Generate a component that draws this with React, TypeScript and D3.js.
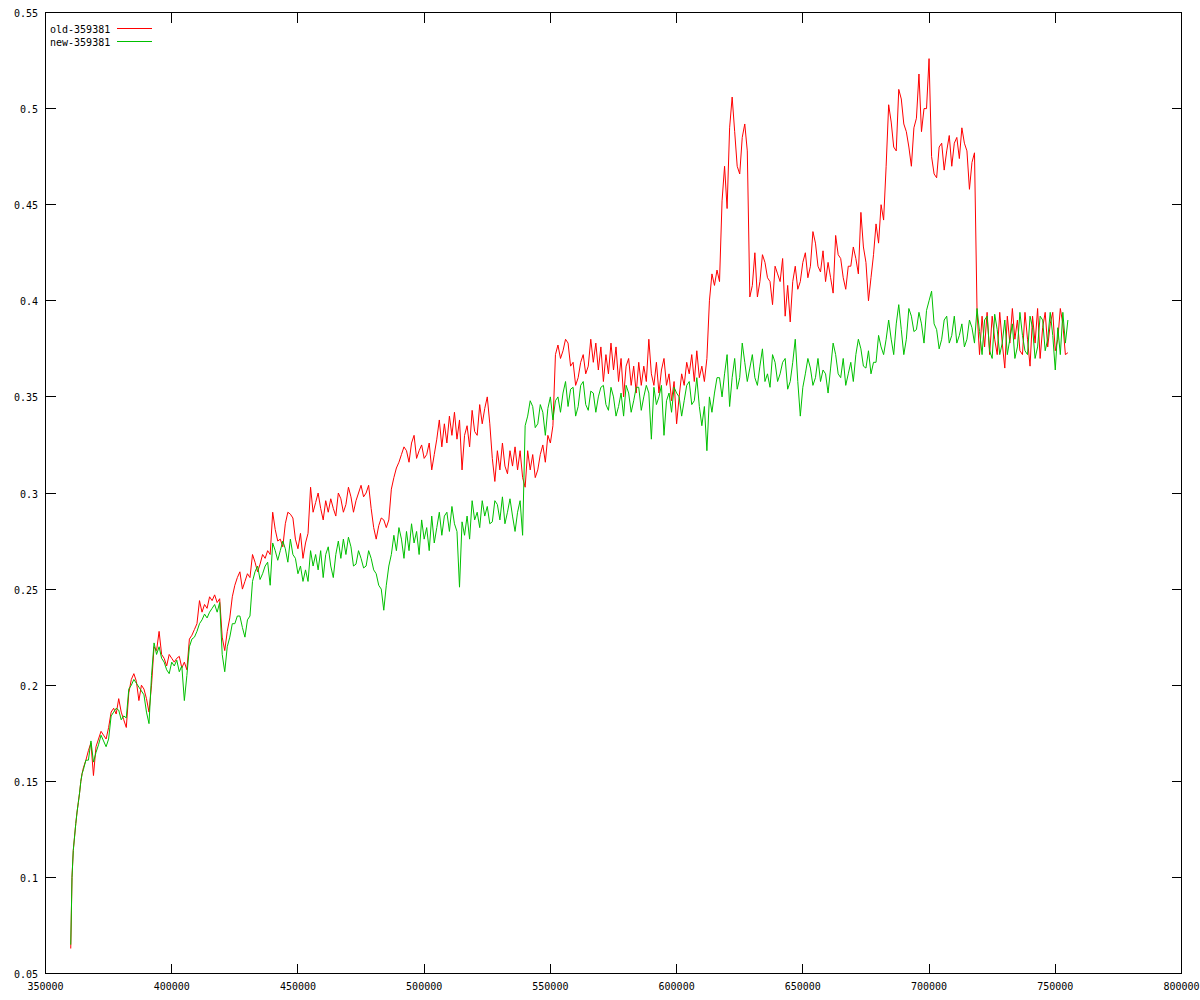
import React from 'react';
import * as d3 from 'd3';

// x grid of the samples (dense at the start, then every 1000)
const headX = [360000, 360500, 361000, 361500, 362000, 362500, 363000, 363500, 364000, 364500];
const bodyX = d3.range(365000, 755001, 1000);
const xValues = headX.concat(bodyX);

const oldHead = [0.063, 0.100, 0.114, 0.121, 0.128, 0.134, 0.139, 0.144, 0.150, 0.154];
const oldBody = [
  0.157, 0.161, 0.166, 0.170, 0.153, 0.168, 0.172, 0.176, 0.174, 0.172,
  0.178, 0.186, 0.188, 0.185, 0.193, 0.186, 0.182, 0.178, 0.196, 0.203,
  0.206, 0.202, 0.192, 0.200, 0.198, 0.193, 0.186, 0.200, 0.220, 0.218,
  0.228, 0.216, 0.214, 0.210, 0.216, 0.214, 0.212, 0.214, 0.215, 0.209,
  0.212, 0.208, 0.224, 0.226, 0.229, 0.232, 0.244, 0.238, 0.242, 0.240,
  0.246, 0.244, 0.247, 0.243, 0.245, 0.225, 0.218, 0.228, 0.235, 0.246,
  0.252, 0.256, 0.259, 0.250, 0.254, 0.258, 0.256, 0.268, 0.264, 0.259,
  0.263, 0.268, 0.266, 0.270, 0.268, 0.290, 0.281, 0.275, 0.276, 0.272,
  0.284, 0.290, 0.289, 0.287, 0.276, 0.271, 0.279, 0.266, 0.274, 0.279,
  0.303, 0.290, 0.295, 0.300, 0.292, 0.286, 0.296, 0.290, 0.297, 0.292,
  0.288, 0.300, 0.297, 0.290, 0.294, 0.303, 0.298, 0.290, 0.296, 0.300,
  0.304, 0.298, 0.300, 0.304, 0.292, 0.282, 0.276, 0.283, 0.287, 0.286,
  0.282, 0.286, 0.302, 0.308, 0.313, 0.316, 0.320, 0.324, 0.322, 0.316,
  0.326, 0.330, 0.318, 0.322, 0.325, 0.318, 0.320, 0.326, 0.312, 0.320,
  0.328, 0.338, 0.324, 0.336, 0.326, 0.340, 0.330, 0.342, 0.328, 0.338,
  0.312, 0.330, 0.335, 0.324, 0.343, 0.332, 0.330, 0.346, 0.336, 0.344,
  0.350, 0.336, 0.318, 0.306, 0.322, 0.312, 0.326, 0.314, 0.310, 0.322,
  0.314, 0.324, 0.312, 0.322, 0.308, 0.303, 0.322, 0.312, 0.320, 0.308,
  0.312, 0.320, 0.325, 0.316, 0.330, 0.326, 0.335, 0.372, 0.377, 0.370,
  0.374, 0.380, 0.378, 0.366, 0.368, 0.356, 0.360, 0.368, 0.372, 0.362,
  0.366, 0.380, 0.368, 0.378, 0.364, 0.376, 0.358, 0.372, 0.362, 0.378,
  0.364, 0.376, 0.358, 0.370, 0.350, 0.366, 0.370, 0.356, 0.366, 0.352,
  0.368, 0.356, 0.366, 0.358, 0.380, 0.362, 0.356, 0.368, 0.352, 0.364,
  0.370, 0.356, 0.362, 0.348, 0.358, 0.336, 0.350, 0.362, 0.356, 0.368,
  0.362, 0.372, 0.358, 0.374, 0.360, 0.366, 0.358, 0.370, 0.400, 0.414,
  0.408, 0.416, 0.410, 0.452, 0.470, 0.448, 0.490, 0.506, 0.488, 0.470,
  0.466, 0.485, 0.492, 0.478, 0.402, 0.408, 0.425, 0.402, 0.410, 0.424,
  0.420, 0.412, 0.410, 0.398, 0.418, 0.414, 0.410, 0.422, 0.392, 0.408,
  0.389, 0.410, 0.418, 0.406, 0.410, 0.420, 0.425, 0.412, 0.418, 0.436,
  0.430, 0.418, 0.415, 0.426, 0.410, 0.420, 0.412, 0.404, 0.434, 0.424,
  0.422, 0.412, 0.406, 0.418, 0.418, 0.428, 0.422, 0.414, 0.446, 0.428,
  0.420, 0.400, 0.412, 0.424, 0.440, 0.430, 0.450, 0.442, 0.470, 0.502,
  0.493, 0.480, 0.478, 0.510, 0.505, 0.492, 0.488, 0.480, 0.470, 0.490,
  0.495, 0.518, 0.488, 0.500, 0.500, 0.526, 0.475, 0.466, 0.464, 0.480,
  0.482, 0.468, 0.478, 0.486, 0.470, 0.482, 0.485, 0.474, 0.490, 0.482,
  0.478, 0.458, 0.472, 0.477, 0.395, 0.372, 0.392, 0.376, 0.394, 0.372,
  0.392, 0.380, 0.372, 0.394, 0.378, 0.365, 0.392, 0.378, 0.396, 0.380,
  0.390, 0.374, 0.372, 0.394, 0.380, 0.366, 0.392, 0.378, 0.396, 0.370,
  0.386, 0.394, 0.376, 0.388, 0.394, 0.374, 0.380, 0.396, 0.388, 0.372,
  0.373,
];

const newHead = [0.065, 0.100, 0.114, 0.121, 0.128, 0.134, 0.139, 0.144, 0.150, 0.154];
const newBody = [
  0.156, 0.161, 0.161, 0.171, 0.160, 0.165, 0.169, 0.174, 0.171, 0.168,
  0.172, 0.184, 0.186, 0.188, 0.187, 0.182, 0.184, 0.183, 0.198, 0.200,
  0.203, 0.201, 0.199, 0.197, 0.195, 0.186, 0.180, 0.205, 0.222, 0.216,
  0.220, 0.214, 0.212, 0.208, 0.206, 0.212, 0.210, 0.213, 0.207, 0.210,
  0.192, 0.205, 0.220, 0.224, 0.225, 0.228, 0.232, 0.234, 0.237, 0.235,
  0.238, 0.240, 0.242, 0.238, 0.243, 0.216, 0.207, 0.220, 0.225, 0.232,
  0.232, 0.236, 0.236, 0.230, 0.225, 0.234, 0.236, 0.254, 0.259, 0.262,
  0.255, 0.258, 0.262, 0.264, 0.252, 0.274, 0.270, 0.265, 0.270, 0.275,
  0.271, 0.264, 0.276, 0.268, 0.266, 0.258, 0.262, 0.254, 0.260, 0.254,
  0.270, 0.262, 0.268, 0.260, 0.270, 0.256, 0.268, 0.272, 0.262, 0.256,
  0.268, 0.275, 0.266, 0.276, 0.268, 0.277, 0.272, 0.262, 0.263, 0.270,
  0.266, 0.261, 0.262, 0.270, 0.266, 0.260, 0.258, 0.252, 0.250, 0.239,
  0.252, 0.262, 0.268, 0.278, 0.270, 0.282, 0.276, 0.266, 0.280, 0.270,
  0.284, 0.274, 0.280, 0.268, 0.286, 0.276, 0.282, 0.270, 0.288, 0.274,
  0.282, 0.290, 0.278, 0.288, 0.290, 0.280, 0.293, 0.284, 0.280, 0.251,
  0.285, 0.278, 0.288, 0.276, 0.296, 0.286, 0.290, 0.282, 0.296, 0.288,
  0.293, 0.284, 0.285, 0.296, 0.294, 0.286, 0.298, 0.284, 0.290, 0.297,
  0.288, 0.280, 0.290, 0.296, 0.278, 0.335, 0.340, 0.348, 0.345, 0.334,
  0.336, 0.346, 0.342, 0.330, 0.344, 0.350, 0.338, 0.348, 0.350, 0.342,
  0.352, 0.358, 0.345, 0.354, 0.355, 0.340, 0.345, 0.356, 0.358, 0.346,
  0.343, 0.353, 0.352, 0.342, 0.350, 0.355, 0.356, 0.346, 0.343, 0.355,
  0.350, 0.340, 0.345, 0.352, 0.340, 0.356, 0.352, 0.342, 0.348, 0.355,
  0.355, 0.343, 0.350, 0.356, 0.352, 0.328, 0.355, 0.346, 0.350, 0.356,
  0.330, 0.348, 0.352, 0.342, 0.355, 0.352, 0.350, 0.340, 0.348, 0.356,
  0.358, 0.346, 0.348, 0.360, 0.345, 0.335, 0.345, 0.322, 0.350, 0.342,
  0.352, 0.360, 0.360, 0.350, 0.362, 0.372, 0.345, 0.360, 0.370, 0.354,
  0.360, 0.378, 0.368, 0.358, 0.365, 0.372, 0.360, 0.356, 0.366, 0.375,
  0.358, 0.362, 0.355, 0.372, 0.368, 0.358, 0.362, 0.368, 0.370, 0.354,
  0.358, 0.368, 0.380, 0.358, 0.340, 0.355, 0.362, 0.370, 0.365, 0.356,
  0.360, 0.370, 0.358, 0.364, 0.362, 0.352, 0.365, 0.378, 0.372, 0.362,
  0.360, 0.370, 0.356, 0.362, 0.368, 0.358, 0.372, 0.380, 0.375, 0.366,
  0.365, 0.374, 0.362, 0.368, 0.368, 0.382, 0.376, 0.372, 0.380, 0.390,
  0.380, 0.372, 0.388, 0.398, 0.385, 0.372, 0.380, 0.396, 0.392, 0.384,
  0.385, 0.394, 0.388, 0.378, 0.395, 0.400, 0.405, 0.388, 0.385, 0.375,
  0.380, 0.390, 0.392, 0.378, 0.382, 0.392, 0.378, 0.382, 0.388, 0.376,
  0.380, 0.390, 0.386, 0.378, 0.396, 0.384, 0.372, 0.390, 0.392, 0.374,
  0.370, 0.393, 0.385, 0.372, 0.378, 0.390, 0.372, 0.380, 0.388, 0.370,
  0.376, 0.394, 0.382, 0.374, 0.372, 0.392, 0.386, 0.370, 0.376, 0.392,
  0.390, 0.374, 0.380, 0.394, 0.382, 0.364, 0.386, 0.372, 0.394, 0.378,
  0.390,
];

const oldValues = oldHead.concat(oldBody);
const newValues = newHead.concat(newBody);

const seriesNames = ['old-359381', 'new-359381'];
const seriesColors = ['#ff0000', '#00c000'];

const xTicks = [350000, 400000, 450000, 500000, 550000, 600000, 650000, 700000, 750000, 800000];
const xTickLabels = ['350000', '400000', '450000', '500000', '550000', '600000', '650000', '700000', '750000', '800000'];
const yTicks = [0.05, 0.1, 0.15, 0.2, 0.25, 0.3, 0.35, 0.4, 0.45, 0.5, 0.55];
const yTickLabels = ['0.05', '0.1', '0.15', '0.2', '0.25', '0.3', '0.35', '0.4', '0.45', '0.5', '0.55'];

export default function App() {
  const W = 1200;
  const H = 1000;
  const left = 45.5, right = 1181.5, top = 12.5, bottom = 973.5;
  const x = d3.scaleLinear().domain([350000, 800000]).range([left, right]);
  const y = d3.scaleLinear().domain([0.05, 0.55]).range([bottom, top]);
  const snap = (v: number) => Math.round(v - 0.5) + 0.5;

  const line = d3
    .line<number>()
    .x((_, i) => x(xValues[i]))
    .y((d) => y(d));

  const series = [oldValues, newValues];
  const tickLen = 10;

  return (
    <svg
      width={W}
      height={H}
      style={{ position: 'absolute', left: 0, top: 0, background: '#fff' }}
      fontFamily="'DejaVu Sans Mono', monospace"
      fontSize={10}
    >
      <rect x={0} y={0} width={W} height={H} fill="#fff" />
      {series.map((vals, si) => (
        <path
          key={si}
          d={line(vals) || ''}
          fill="none"
          stroke={seriesColors[si]}
          strokeWidth={1}
        />
      ))}
      <g stroke="#000" strokeWidth={1} shapeRendering="crispEdges" fill="none">
        <rect x={left} y={top} width={right - left} height={bottom - top} />
        {yTicks.map((t, i) => {
          const yy = snap(y(t));
          return (
            <g key={'yt' + i}>
              <line x1={left} x2={left + tickLen} y1={yy} y2={yy} />
              <line x1={right - tickLen} x2={right} y1={yy} y2={yy} />
            </g>
          );
        })}
        {xTicks.map((t, i) => {
          const xx = snap(x(t));
          return (
            <g key={'xt' + i}>
              <line x1={xx} x2={xx} y1={bottom} y2={bottom - tickLen} />
              <line x1={xx} x2={xx} y1={top} y2={top + tickLen} />
            </g>
          );
        })}
      </g>
      <g fill="#000">
        {yTicks.map((t, i) => (
          <text key={'yl' + i} x={38} y={y(t) + 4.5} textAnchor="end">
            {yTickLabels[i]}
          </text>
        ))}
        {xTicks.map((t, i) => (
          <text key={'xl' + i} x={x(t)} y={990} textAnchor="middle">
            {xTickLabels[i]}
          </text>
        ))}
      </g>
      <g>
        {seriesNames.map((name, i) => (
          <g key={'lg' + i}>
            <text x={50} y={33 + i * 13} fill="#000">
              {name}
            </text>
            <line
              x1={117}
              x2={152}
              y1={28.5 + i * 13}
              y2={28.5 + i * 13}
              stroke={seriesColors[i]}
              strokeWidth={1}
              shapeRendering="crispEdges"
            />
          </g>
        ))}
      </g>
    </svg>
  );
}
